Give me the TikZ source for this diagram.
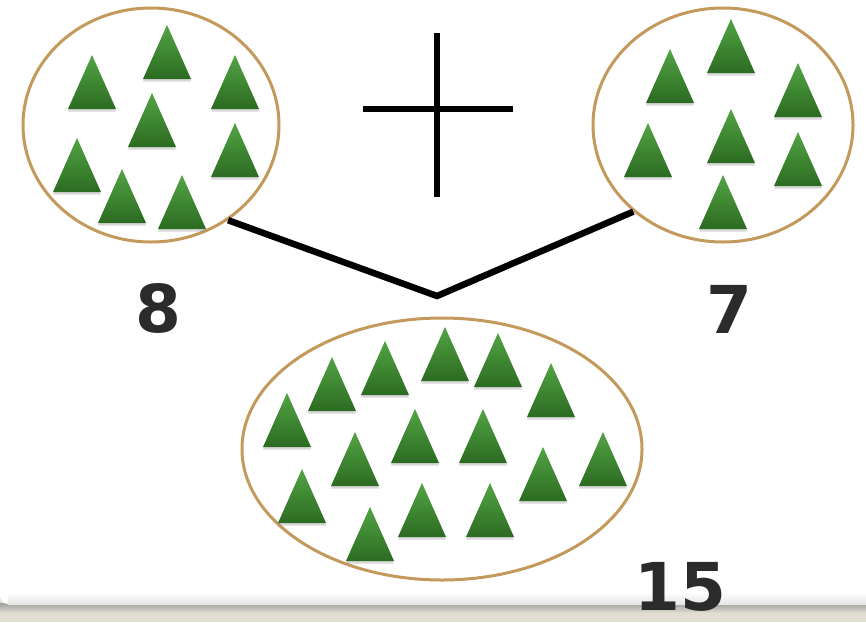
\documentclass[tikz,border=0pt]{standalone}
\usepackage{fontspec}
\usetikzlibrary{shapes.geometric,shadows}
\newfontfamily\numfont{DejaVu Sans}
\definecolor{rim}{HTML}{C49A5C}
\definecolor{leaftop}{HTML}{52A444}
\definecolor{leafbot}{HTML}{2C6B22}
\definecolor{panelbg}{HTML}{E2DED1}
\definecolor{digit}{HTML}{2B2B2B}

\begin{document}
\begin{tikzpicture}[x=1pt,y=-1pt,
  group/.style={ellipse,draw=rim,line width=3pt,inner sep=0pt},
  tree/.style={top color=leaftop,bottom color=leafbot,drop shadow={shadow xshift=0pt,shadow yshift=-2.5pt,opacity=.3}},
  count/.style={font=\numfont\bfseries\fontsize{66}{66}\selectfont,text=digit,inner sep=0pt,anchor=base}]
  \useasboundingbox (0,0) rectangle (866,622);
  % frame with its shadow at the bottom
  \fill[panelbg] (0,596) rectangle (866,622);
  \shade[top color=black!38,bottom color=panelbg] (0,603) rectangle (866,613);
  \fill[white,rounded corners=8pt] (0,-20) rectangle (890,604);
  \shade[top color=white,bottom color=black!10] (8,592) rectangle (866,604);
  % the three groups
  \node[group,minimum width=256pt,minimum height=234pt] (left) at (151,125) {};
  \node[group,minimum width=260pt,minimum height=234pt] (right) at (723,125) {};
  \node[group,minimum width=400pt,minimum height=262pt] (total) at (442,449) {};
  \foreach \x/\y in {92/55,167/25,235/55,152/93,77/138,235/123,122/169,182/175,
                     670/49,731/19,798/63,648/123,731/109,798/132,723/175,
                     287/393,332/357,385/341,445/327,498/333,551/363,355/432,415/409,
                     483/409,543/447,603/432,302/469,370/507,422/483,490/483}
    \shade[tree] (\x,\y) -- ++(-24,54) -- ++(48,0) -- cycle;
  % plus sign and the join
  \coordinate (plus) at (437,109);
  \draw[line width=6.5pt] (plus) ++(-74,0) -- ++(150,0) (plus) ++(0,-76) -- ++(0,164);
  \coordinate (vee) at (437,296);
  \draw[line width=6.5pt] (left.-51) -- (vee) -- (right.-136);
  % counts
  \node[count] (eight) at (158,332) {8};
  \node[count] (seven) at (729,333) {7};
  \node[count] (fifteen) at (680,610) {15};
\end{tikzpicture}
\end{document}
